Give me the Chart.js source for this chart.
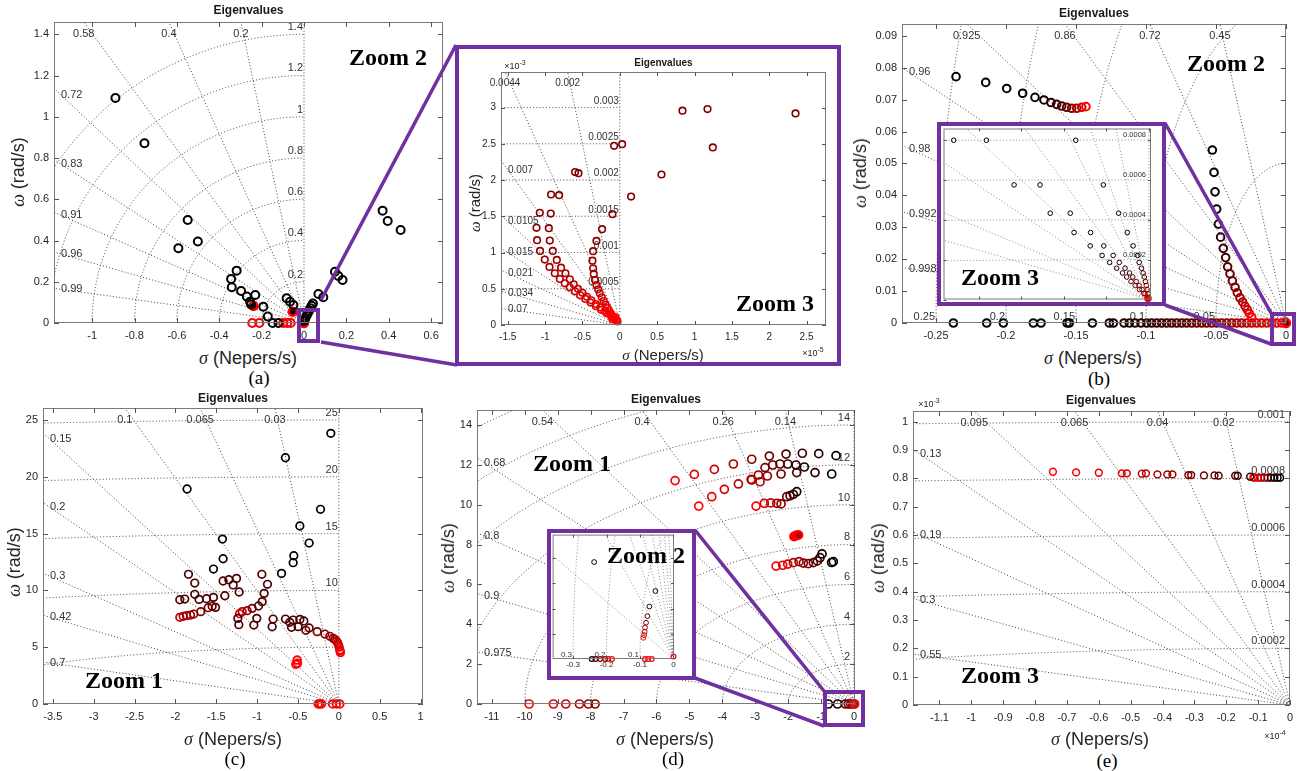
<!DOCTYPE html>
<html lang="en">
<head>
<meta charset="UTF-8" />
<title>Eigenvalues</title>
<script src="https://cdn.jsdelivr.net/npm/chart.js"></script>
<style>
  body { margin: 0; background: #fff; }
  #page { position: relative; width: 1307px; height: 771px; overflow: hidden; font-family: "Liberation Sans", Arial, sans-serif; color: #262626; }
  canvas { position: absolute; }
  .lbl { position: absolute; transform: translate(-50%, -50%); white-space: nowrap; line-height: 1; }
  .title { font-weight: bold; font-size: 12px; color: #1a1a1a; }
  .ax { font-size: 18px; }
  .ax i { font-family: "Liberation Serif", serif; }
  .ylab { transform: translate(-50%, -50%) rotate(-90deg); }
  .sub { font-family: "Liberation Serif", "Times New Roman", serif; font-size: 19px; color: #000; }
  .zoom { font-family: "Liberation Serif", serif; font-weight: bold; font-size: 24px; color: #000; }
  .exp { font-size: 9px; }
  .exp sup { font-size: 7px; }
  .frame { position: absolute; border: 4px solid #7030a0; box-sizing: border-box; }
  svg { position: absolute; left: 0; top: 0; }
</style>
</head>
<body>
<div id="page"></div>
<script>
// ---------- (a) main ----------
const aZeta = [0.99, 0.96, 0.91, 0.83, 0.72, 0.58, 0.4, 0.2];
const aWn = [0.2, 0.4, 0.6, 0.8, 1, 1.2, 1.4];
const aXTicks = [-1, -0.8, -0.6, -0.4, -0.2, 0, 0.2, 0.4, 0.6];
const aXLabels = ['-1', '-0.8', '-0.6', '-0.4', '-0.2', '0', '0.2', '0.4', '0.6'];
const aYTicks = [0, 0.2, 0.4, 0.6, 0.8, 1, 1.2, 1.4];
const aYLabels = ['0', '0.2', '0.4', '0.6', '0.8', '1', '1.2', '1.4'];
const aBlack = [[-0.89,1.091],[-0.753,0.872],[-0.549,0.5],[-0.501,0.395],[-0.593,0.363],[-0.318,0.254],[-0.344,0.214],
  [-0.341,0.173],[-0.297,0.155],[-0.27,0.128],[-0.23,0.136],[-0.255,0.103],[-0.25,0.09],[-0.192,0.079],[-0.171,0.031],
  [-0.148,0],[-0.121,0],[-0.082,0.12],[-0.066,0.103],[-0.05,0.087],[0,0.01],[0.006,0.022],[0.012,0.035],[0.018,0.048],
  [0.024,0.06],[0.03,0.072],[0.036,0.084],[0.042,0.095],[0.068,0.141],[0.091,0.125],[0.146,0.249],[0.162,0.228],
  [0.182,0.209],[0.371,0.545],[0.395,0.495],[0.456,0.451]];
const aRed = [[-0.244,0],[-0.211,0],[-0.098,0],[-0.079,0],[-0.063,0]];
const aRedDot = [[-0.239,0.083],[-0.053,0.055],[0,0]];

// ---------- (a) zoom 3 (x in 1e-5, y in 1e-3) ----------
const azZeta = [0.07, 0.034, 0.021, 0.015, 0.0105, 0.007, 0.0044, 0.002];
const azWn = [0.0005, 0.001, 0.0015, 0.002, 0.0025, 0.003];
const azXTicks = [-1.5, -1, -0.5, 0, 0.5, 1, 1.5, 2, 2.5];
const azXLabels = ['-1.5', '-1', '-0.5', '0', '0.5', '1', '1.5', '2', '2.5'];
const azYTicks = [0, 0.5, 1, 1.5, 2, 2.5, 3];
const azYLabels = ['0', '0.5', '1', '1.5', '2', '2.5', '3'];
const azTop = [[0.839,2.956],[1.174,2.979],[2.352,2.919],[1.245,2.449],[-0.076,2.472],[0.031,2.495],[0.558,2.076],
  [0.151,1.772],[-0.098,1.529],[-0.598,2.109],[-0.553,2.095],[-0.92,1.8],[-0.812,1.791]];
const azLeft = [[-1.071,1.547],[-1.115,1.34],[-1.107,1.17],[-1.067,1.022],[-1.004,0.902],[-0.941,0.801],[-0.87,0.714],
  [-0.803,0.635],[-0.736,0.575],[-0.67,0.52],[-0.6,0.465],[-0.53,0.41],[-0.46,0.36],[-0.39,0.31],[-0.32,0.26],
  [-0.25,0.21],[-0.18,0.165],[-0.12,0.13]];
const azMid = [[-0.924,1.537],[-0.95,1.335],[-0.937,1.165],[-0.897,1.022],[-0.843,0.898],[-0.786,0.791],[-0.727,0.714],
  [-0.669,0.631],[-0.616,0.562],[-0.56,0.5],[-0.5,0.445],[-0.44,0.39],[-0.38,0.34],[-0.32,0.29],[-0.26,0.24],
  [-0.2,0.195],[-0.15,0.155],[-0.11,0.125]];
const azRight = [[-0.237,1.322],[-0.312,1.16],[-0.357,1.018],[-0.366,0.888],[-0.357,0.783],[-0.348,0.704],[-0.331,0.622],
  [-0.312,0.552],[-0.29,0.493],[-0.268,0.438],[-0.241,0.383],[-0.215,0.33],[-0.19,0.28],[-0.165,0.235],[-0.14,0.19],
  [-0.115,0.15],[-0.095,0.12]];
const azCore = [[-0.1,0.08],[-0.09,0.1],[-0.07,0.09],[-0.06,0.11],[-0.05,0.08],[-0.04,0.06],[-0.03,0.05]];

// ---------- (b) main ----------
const bZeta = [0.998, 0.992, 0.98, 0.96, 0.925, 0.86, 0.72, 0.45];
const bWn = [0.05, 0.1, 0.15, 0.2, 0.25];
const bXTicks = [-0.25, -0.2, -0.15, -0.1, -0.05, 0];
const bXLabels = ['-0.25', '-0.2', '-0.15', '-0.1', '-0.05', '0'];
const bYTicks = [0, 0.01, 0.02, 0.03, 0.04, 0.05, 0.06, 0.07, 0.08, 0.09];
const bYLabels = ['0', '0.01', '0.02', '0.03', '0.04', '0.05', '0.06', '0.07', '0.08', '0.09'];
const bArc = [[-0.2357,0.0772],[-0.2145,0.0754],[-0.1995,0.0735],[-0.1881,0.072],[-0.1793,0.0707],[-0.1729,0.0699],
  [-0.1679,0.0691],[-0.1638,0.0685],[-0.1602,0.068],[-0.1567,0.0676],[-0.1531,0.0673],[-0.1495,0.0673],
  [-0.1459,0.0676],[-0.1429,0.0678]];
const bChain = [[-0.0526,0.0542],[-0.0514,0.0472],[-0.0507,0.0411],[-0.0495,0.0357],[-0.0483,0.031],[-0.0467,0.0269],
  [-0.0448,0.0234],[-0.0431,0.0205],[-0.0417,0.0176],[-0.04,0.0154],[-0.0383,0.0132],[-0.0364,0.0112],
  [-0.0348,0.0095],[-0.0329,0.0079],[-0.031,0.0066],[-0.0293,0.0053],[-0.0276,0.0041],[-0.0262,0.003],[-0.0245,0.0018]];
const bAxis = [-0.2376,-0.2138,-0.2019,-0.1805,-0.175,-0.1564,-0.1548,-0.1383,-0.1262,-0.1233,-0.1157,-0.1119,
  -0.1079,-0.1036,-0.0995,-0.096,-0.0924,-0.0888,-0.0852,-0.0817,-0.0781,-0.0745,-0.071,-0.0674,-0.0638,-0.0602,
  -0.0567,-0.0531,-0.0495,-0.046,-0.0424,-0.0388,-0.0352,-0.0317,-0.0281,-0.0245,-0.021,-0.0174,-0.0138,-0.0102,
  -0.0067,-0.0031];
const bOriginRed = [[0,0]];
const bOriginBlack = [[-0.0003,0.0008]];

// ---------- (b) zoom 3 (x in 1e-5, y in 1e-4) ----------
const bzZeta = [0.16, 0.11, 0.07, 0.05, 0.034, 0.023, 0.016, 0.009];
const bzWn = [0.0002, 0.0004, 0.0006, 0.0008];
const bzXTicks = [-4, -3, -2, -1, 0];
const bzYTicks = [0, 2, 4, 6, 8];
const bzCol1 = [[-4.59,7.99],[-3.17,5.75],[-2.32,4.33],[-1.76,3.36],[-1.38,2.69],[-1.1,2.21],[-0.923,1.86],[-0.757,1.57],
  [-0.62,1.33],[-0.522,1.13],[-0.42,0.9],[-0.32,0.7],[-0.22,0.5],[-0.12,0.3],[-0.04,0.1]];
const bzCol2 = [[-3.82,7.99],[-2.56,5.75],[-1.85,4.33],[-1.37,3.36],[-1.06,2.69],[-0.84,2.21],[-0.697,1.86],[-0.56,1.57],
  [-0.454,1.33],[-0.379,1.13],[-0.3,0.9],[-0.23,0.7],[-0.16,0.5],[-0.09,0.3],[-0.03,0.1]];
const bzCol3 = [[-1.72,7.99],[-1.07,5.75],[-0.711,4.33],[-0.506,3.36],[-0.37,2.69],[-0.265,2.21],[-0.227,1.86],[-0.174,1.57],
  [-0.136,1.33],[-0.107,1.13],[-0.08,0.9],[-0.06,0.7],[-0.04,0.5],[-0.02,0.3],[-0.01,0.1]];
const bzEnd = [[-0.02,0.05]];

// ---------- (c) ----------
const cZeta = [0.7, 0.42, 0.3, 0.2, 0.15, 0.1, 0.065, 0.03];
const cWn = [5, 10, 15, 20, 25];
const cXTicks = [-3.5, -3, -2.5, -2, -1.5, -1, -0.5, 0, 0.5, 1];
const cXLabels = ['-3.5', '-3', '-2.5', '-2', '-1.5', '-1', '-0.5', '0', '0.5', '1'];
const cYTicks = [0, 5, 10, 15, 20, 25];
const cYLabels = ['0', '5', '10', '15', '20', '25'];
const cTop = [[-0.098,23.83],[-0.653,21.68],[-1.857,18.93],[-0.224,17.14],[-0.477,15.67],[-0.363,14.17],[-1.424,14.52],
  [-1.416,12.79],[-0.551,13.05],[-0.559,12.44],[-1.534,11.88],[-0.701,11.5]];
const cMid = [[-1.84,11.42],[-1.763,10.65],[-1.763,9.66],[-1.885,9.24],[-1.946,9.18],[-1.71,9.21],[-1.619,9.27],
  [-1.534,9.39],[-1.416,10.83],[-1.346,10.94],[-1.293,10.48],[-1.252,11.06],[-1.22,9.86],[-1.395,9.53],[-0.942,11.42],
  [-0.873,10.54],[-0.914,9.74],[-0.938,9.01],[-1.236,7.54],[-1.224,6.98],[-1.04,6.95],[-1.004,7.54],[-0.804,7.48],
  [-0.816,6.8],[-0.653,7.48],[-0.6,7.19],[-0.559,7.39],[-0.477,7.45],[-0.428,7.31],[-0.579,6.75],[-0.498,6.81]];
const cLowA = [[-1.215,7.95],[-1.183,8.13],[-1.122,8.22],[-1.061,8.42],[-0.983,8.63]];
const cLowB = [[-1.946,7.63],[-1.905,7.72],[-1.864,7.78],[-1.815,7.83],[-1.775,7.92],[-1.689,8.13],[-1.599,8.48],
  [-1.55,8.6],[-1.509,8.51]];
const cChain = [[-0.404,6.49],[-0.363,6.69],[-0.265,6.37],[-0.171,6.16],[-0.11,5.96],[-0.069,5.78],[-0.05,5.7],
  [-0.029,5.55],[-0.015,5.4],[-0.004,5.19],[0.005,5.0],[0.012,4.75],[0.016,4.65],[0.02,4.52]];
const cRed = [[-0.51,3.87],[-0.506,3.58],[-0.526,3.49],[-0.253,0],[-0.235,0],[-0.212,0],[-0.077,0],[-0.029,0],[0.012,0]];

// ---------- (d) ----------
const dZeta = [0.975, 0.9, 0.8, 0.68, 0.54, 0.4, 0.26, 0.14];
const dWn = [2, 4, 6, 8, 10, 12, 14, 16, 18];
const dXTicks = [-11, -10, -9, -8, -7, -6, -5, -4, -3, -2, -1, 0];
const dXLabels = ['-11', '-10', '-9', '-8', '-7', '-6', '-5', '-4', '-3', '-2', '-1', '0'];
const dYTicks = [0, 2, 4, 6, 8, 10, 12, 14];
const dYLabels = ['0', '2', '4', '6', '8', '10', '12', '14'];
const dA = [[-5.434,11.21],[-4.848,11.52],[-4.241,11.77],[-3.664,12.04],[-3.106,12.28],[-2.571,12.44],[-2.064,12.54],
  [-1.569,12.58],[-1.072,12.56],[-0.546,12.46]];
const dB = [[-4.716,9.93],[-4.32,10.4],[-3.937,10.77],[-3.512,11.04],[-3.106,11.24],[-2.904,11.49],[-2.702,11.86],
  [-2.469,11.99],[-2.247,12.04],[-2.013,12.04],[-1.761,11.99],[-1.508,11.89]];
const dC = [[-3.127,11.27],[-2.854,11.15],[-2.631,11.44],[-2.216,11.54],[-1.74,11.61],[-1.184,11.61],[-0.677,11.54]];
const dD = [[-2.975,9.93],[-2.722,10.07],[-2.529,10.09],[-2.347,10.07],[-2.216,10.04],[-2.043,10.4],[-1.943,10.45],
  [-1.842,10.52],[-1.74,10.65]];
const dE = [[-1.82,8.4],[-1.761,8.45],[-1.69,8.48]];
const dF = [[-2.368,6.92],[-2.165,6.96],[-2.013,7.02],[-1.842,7.09],[-1.67,7.14],[-1.538,7.07],[-1.387,7.04],
  [-1.235,7.09],[-1.114,7.18],[-1.032,7.34],[-0.971,7.53]];
const dFBlack = [[-0.68,7.1],[-0.628,7.14]];
const dAxisFar = [[-9.866,0],[-9.129,0],[-8.754,0],[-8.339,0],[-8.066,0],[-7.863,0]];
const dAxisNear = [[-0.78,0],[-0.5,0],[-0.26,0],[-0.17,0],[-0.1,0],[-0.05,0],[0,0],[0.02,0]];

// ---------- (d) zoom 2 ----------
const dzWn = [0.1, 0.2, 0.3];
const dzXTicks = [-0.3, -0.2, -0.1, 0];
const dzXLabels = ['-0.3', '-0.2', '-0.1', '0'];
const dzYTicks = [0.02, 0.04, 0.06, 0.08];
const dzBlack = [[-0.237,0.077],[-0.054,0.054]];
const dzChain = [[-0.072,0.0417],[-0.078,0.034],[-0.082,0.0288],[-0.085,0.025],[-0.086,0.0216],[-0.088,0.019],[-0.09,0.0168]];
const dzAxis = [[-0.244,0],[-0.233,0],[-0.219,0],[-0.204,0],[-0.195,0],[-0.184,0]];
const dzRed = [[-0.0855,0],[-0.076,0],[-0.065,0],[0,0.002]];

// ---------- (e) (x in 1e-4, y in 1e-3) ----------
const eZeta = [0.55, 0.3, 0.19, 0.13, 0.095, 0.065, 0.04, 0.02];
const eWn = [0.0002, 0.0004, 0.0006, 0.0008, 0.001];
const eXTicks = [-1.1, -1, -0.9, -0.8, -0.7, -0.6, -0.5, -0.4, -0.3, -0.2, -0.1, 0];
const eXLabels = ['-1.1', '-1', '-0.9', '-0.8', '-0.7', '-0.6', '-0.5', '-0.4', '-0.3', '-0.2', '-0.1', '0'];
const eYTicks = [0, 0.1, 0.2, 0.3, 0.4, 0.5, 0.6, 0.7, 0.8, 0.9, 1];
const eYLabels = ['0', '0.1', '0.2', '0.3', '0.4', '0.5', '0.6', '0.7', '0.8', '0.9', '1'];
const eRow = [[-0.744,0.8236],[-0.671,0.8213],[-0.6,0.82],[-0.528,0.8178],[-0.512,0.8178],[-0.465,0.8166],
  [-0.452,0.8178],[-0.416,0.8142],[-0.385,0.8142],[-0.369,0.8142],[-0.319,0.8119],[-0.31,0.8119],[-0.27,0.8107],
  [-0.237,0.8107],[-0.224,0.8096],[-0.172,0.8096],[-0.164,0.8096],[-0.125,0.806],[-0.06,0.8025],[-0.049,0.8025],
  [-0.039,0.8025],[-0.031,0.8025]];
const eCluster = [[-0.115,0.8036],[-0.112,0.8025],[-0.101,0.8025],[-0.091,0.8025],[-0.08,0.8025],[-0.07,0.8025]];

const sc = (list, fx, fy) => list.map(([x, y]) => [x * fx, y * fy]);
const sv = (list, f) => list.map(v => v * f);

const page = document.getElementById('page');
const FAM = '"Liberation Sans", Arial, sans-serif';

function shade(t) {
  t = Math.max(0, Math.min(1, t));
  return 'rgb(' + Math.round(255 * t) + ',0,0)';
}

function pts(list, o) {
  const n = list.length;
  const c1 = o.c1 === undefined ? o.c0 : o.c1;
  const col = ctx => {
    const f = n > 1 ? Math.pow((ctx.dataIndex || 0) / (n - 1), o.g || 1) : 0;
    return shade(o.c0 + (c1 - o.c0) * f);
  };
  return {
    data: list.map(p => ({ x: p[0], y: p[1] })),
    pointRadius: o.r, pointHoverRadius: o.r, pointBorderWidth: o.w,
    pointBorderColor: col, pointBackgroundColor: o.fill || 'rgba(0,0,0,0)',
    showLine: false, clip: false
  };
}

function makePlot(c) {
  const cv = document.createElement('canvas');
  cv.width = c.cv[2]; cv.height = c.cv[3];
  cv.style.left = c.cv[0] + 'px'; cv.style.top = c.cv[1] + 'px';
  page.appendChild(cv);
  const padT = c.box[1] - c.cv[1];
  const padR = c.cv[0] + c.cv[2] - c.box[2];
  const yW = c.box[0] - c.cv[0];
  const xH = c.cv[1] + c.cv[3] - c.box[3];
  const font = { family: FAM, size: c.tickFont || 11 };
  const noPad = s => { s.paddingLeft = 0; s.paddingRight = 0; s.paddingTop = 0; s.paddingBottom = 0; };
  const gf = c.gridFont || 11;

  const sgrid = {
    id: 'sgrid',
    beforeDraw(chart) {
      if (!c.bg) return;
      const g = chart.ctx;
      g.save(); g.fillStyle = '#fff'; g.fillRect(0, 0, chart.width, chart.height); g.restore();
    },
    beforeDatasetsDraw(chart) {
      const g = chart.ctx, A = chart.chartArea, sx = chart.scales.x, sy = chart.scales.y;
      const X = v => sx.getPixelForValue(v), Y = v => sy.getPixelForValue(v);
      const xMin = sx.min, yMax = sy.max;
      // damping-ratio rays and natural-frequency arcs, clipped to the axes box
      g.save();
      g.beginPath(); g.rect(A.left, A.top, A.right - A.left, A.bottom - A.top); g.clip();
      g.strokeStyle = c.gridColor || 'rgba(35,35,35,0.85)';
      g.lineWidth = 1; g.setLineDash([1, 2.2]);
      [0].concat(c.zeta).forEach(z => {
        const s = Math.sqrt(1 - z * z);
        const R = Math.min(z > 0 ? -xMin / z : Infinity, yMax / s) * 1.2;
        g.beginPath(); g.moveTo(X(0), Y(0)); g.lineTo(X(-z * R), Y(s * R)); g.stroke();
      });
      c.wn.forEach(w => {
        g.beginPath();
        g.ellipse(X(0), Y(0), X(0) - X(-w), Y(0) - Y(w), 0, Math.PI, 1.5 * Math.PI);
        g.stroke();
      });
      g.restore();

      // grid labels (not clipped)
      g.save();
      g.fillStyle = '#333'; g.font = gf + 'px ' + FAM; g.textBaseline = 'middle';
      if (c.zetaLabels !== false) {
        c.zeta.forEach(z => {
          const s = Math.sqrt(1 - z * z), Rx = -xMin / z, Ry = yMax / s;
          if (Ry <= Rx) {
            g.textAlign = 'center';
            g.fillText(String(z), X(-z * Ry), A.top + gf + 1);
          } else {
            const px = A.left + 7, xv = sx.getValueForPixel(px);
            g.textAlign = 'left';
            g.fillText(String(z), px, Y(-xv * s / z));
          }
        });
      }
      if (c.arcLabels !== false) {
        g.textAlign = 'right';
        c.wn.forEach(w => {
          if (c.arcSide === 'real') {
            const px = X(-w);
            if (px > A.left + 10) g.fillText(String(w), px - 1, A.bottom - gf * 0.55);
          } else {
            const py = Y(w);
            if (py > A.top + 6) g.fillText(String(w), Math.min(X(0) - 1, A.right - 5), py - gf * 0.65);
          }
        });
      }
      g.restore();
    },
    afterDraw(chart) {
      const g = chart.ctx, A = chart.chartArea, sx = chart.scales.x, sy = chart.scales.y;
      const L = c.tickLen || 5;
      g.save();
      g.strokeStyle = '#7a7a7a'; g.lineWidth = 1;
      g.strokeRect(A.left + 0.5, A.top + 0.5, A.right - A.left - 1, A.bottom - A.top - 1);
      g.strokeStyle = '#555';
      g.beginPath();
      c.xTicks.forEach(v => {
        const p = Math.round(sx.getPixelForValue(v)) + 0.5;
        g.moveTo(p, A.bottom); g.lineTo(p, A.bottom - L);
        g.moveTo(p, A.top); g.lineTo(p, A.top + L);
      });
      c.yTicks.forEach(v => {
        const p = Math.round(sy.getPixelForValue(v)) + 0.5;
        g.moveTo(A.left, p); g.lineTo(A.left + L, p);
        g.moveTo(A.right, p); g.lineTo(A.right - L, p);
      });
      g.stroke();
      g.restore();
    }
  };

  new Chart(cv, {
    type: 'scatter',
    data: { datasets: c.sets },
    options: {
      responsive: false, animation: false, devicePixelRatio: 1, events: [],
      layout: { padding: { left: 0, top: padT, right: padR, bottom: 0 } },
      plugins: { legend: { display: false }, tooltip: { enabled: false } },
      scales: {
        x: {
          type: 'linear', min: c.x[0], max: c.x[1],
          afterBuildTicks: s => { s.ticks = c.xTicks.map(v => ({ value: v })); },
          afterFit: s => { s.height = xH; noPad(s); },
          ticks: { display: !!c.xLabels, callback: (v, i) => (c.xLabels ? c.xLabels[i] : ''), font, color: '#262626',
            padding: c.xPad === undefined ? 6 : c.xPad, maxRotation: 0, minRotation: 0, autoSkip: false },
          grid: { display: false, drawTicks: false }, border: { display: false }
        },
        y: {
          type: 'linear', min: c.y[0], max: c.y[1],
          afterBuildTicks: s => { s.ticks = c.yTicks.map(v => ({ value: v })); },
          afterFit: s => { s.width = yW; noPad(s); },
          ticks: { display: !!c.yLabels, callback: (v, i) => (c.yLabels ? c.yLabels[i] : ''), font, color: '#262626',
            padding: 5, autoSkip: false },
          grid: { display: false, drawTicks: false }, border: { display: false }
        }
      }
    },
    plugins: [sgrid]
  });
}

// (a) main
makePlot({
  cv: [0, 0, 452, 345], box: [54, 22, 443, 323], x: [-1.18, 0.656], y: [0, 1.46],
  xTicks: aXTicks, xLabels: aXLabels, yTicks: aYTicks, yLabels: aYLabels,
  zeta: aZeta, wn: aWn,
  sets: [
    pts(aBlack, { c0: 0, r: 4, w: 2 }),
    pts(aRed, { c0: 1, r: 4, w: 2.2 }),
    pts(aRedDot, { c0: 1, r: 4, w: 2.5, fill: '#2a0000' })
  ]
});

// (a) zoom 3
makePlot({
  cv: [457, 47, 381, 316], box: [501, 72, 826, 325], x: [-1.59e-5, 2.76e-5], y: [0, 3.49e-3],
  xTicks: sv(azXTicks, 1e-5), xLabels: azXLabels, yTicks: sv(azYTicks, 1e-3), yLabels: azYLabels,
  zeta: azZeta, wn: azWn, tickFont: 10, gridFont: 10, tickLen: 4, bg: true,
  sets: [
    pts(sc(azTop, 1e-5, 1e-3), { c0: 0.5, r: 3.3, w: 1.6 }),
    pts(sc(azLeft, 1e-5, 1e-3), { c0: 0.5, c1: 1, r: 3.3, w: 1.6 }),
    pts(sc(azMid, 1e-5, 1e-3), { c0: 0.5, c1: 1, r: 3.3, w: 1.6 }),
    pts(sc(azRight, 1e-5, 1e-3), { c0: 0.5, c1: 1, r: 3.3, w: 1.6 }),
    pts(sc(azCore, 1e-5, 1e-3), { c0: 1, r: 3.3, w: 1.6 })
  ]
});

// (b) main
makePlot({
  cv: [845, 0, 462, 345], box: [902, 24, 1286, 323], x: [-0.2743, 0], y: [0, 0.0937],
  xTicks: bXTicks, xLabels: bXLabels, yTicks: bYTicks, yLabels: bYLabels,
  zeta: bZeta, wn: bWn, arcSide: 'real',
  sets: [
    pts(bArc, { c0: 0, c1: 1, g: 2.5, r: 3.8, w: 2 }),
    pts(bChain, { c0: 0, c1: 1, g: 1.4, r: 3.8, w: 2 }),
    pts(bAxis.map(x => [x, 0]), { c0: 0, c1: 1, g: 1.6, r: 3.8, w: 2 }),
    pts(bOriginRed, { c0: 1, r: 4, w: 2.5, fill: '#2a0000' }),
    pts(bOriginBlack, { c0: 0, r: 2.5, w: 1.5 })
  ]
});

// (c)
makePlot({
  cv: [0, 400, 432, 330], box: [43, 408, 423, 704], x: [-3.62, 1.03], y: [0, 26.06],
  xTicks: cXTicks, xLabels: cXLabels, yTicks: cYTicks, yLabels: cYLabels,
  zeta: cZeta, wn: cWn,
  sets: [
    pts(cTop, { c0: 0, r: 3.8, w: 1.7 }),
    pts(cMid, { c0: 0.3, r: 3.8, w: 1.7 }),
    pts(cLowA, { c0: 0.9, c1: 0.35, r: 3.8, w: 1.7 }),
    pts(cLowB, { c0: 0.75, c1: 0.35, r: 3.8, w: 1.7 }),
    pts(cChain, { c0: 0.35, c1: 1, r: 3.8, w: 1.7 }),
    pts(cRed, { c0: 1, r: 3.8, w: 1.9 })
  ]
});

// (d)
makePlot({
  cv: [434, 400, 432, 330], box: [477, 410, 855, 704], x: [-11.45, 0.03], y: [0, 14.75],
  xTicks: dXTicks, xLabels: dXLabels, yTicks: dYTicks, yLabels: dYLabels,
  zeta: dZeta, wn: dWn,
  sets: [
    pts(dA, { c0: 1, c1: 0, r: 4, w: 1.7 }),
    pts(dB, { c0: 1, c1: 0.1, r: 4, w: 1.7 }),
    pts(dC, { c0: 0.9, c1: 0, r: 4, w: 1.7 }),
    pts(dD, { c0: 1, c1: 0.1, r: 4, w: 1.7 }),
    pts(dE, { c0: 1, r: 4, w: 2, fill: '#c00000' }),
    pts(dF, { c0: 1, c1: 0.1, r: 4, w: 1.7 }),
    pts(dFBlack, { c0: 0, r: 4, w: 1.7 }),
    pts(dAxisFar, { c0: 1, c1: 0.55, r: 4, w: 1.7 }),
    pts(dAxisNear, { c0: 0, c1: 1, r: 4, w: 1.7 })
  ]
});

// (e)
makePlot({
  cv: [868, 400, 439, 330], box: [913, 411, 1290, 705], x: [-1.183e-4, 0], y: [0, 1.038e-3],
  xTicks: sv(eXTicks, 1e-4), xLabels: eXLabels, yTicks: sv(eYTicks, 1e-3), yLabels: eYLabels,
  zeta: eZeta, wn: eWn,
  sets: [
    pts(sc(eRow, 1e-4, 1e-3), { c0: 1, c1: 0, r: 3.4, w: 1.5 }),
    pts(sc(eCluster, 1e-4, 1e-3), { c0: 1, c1: 0.6, r: 3.4, w: 1.5 })
  ]
});

// (b) zoom 3 inset
makePlot({
  cv: [939, 124, 224, 180], box: [939, 124, 1151, 302], x: [-4.83e-5, 0.05e-5], y: [0, 8.58e-4],
  xTicks: sv(bzXTicks, 1e-5), xLabels: null, yTicks: sv(bzYTicks, 1e-4), yLabels: null,
  zeta: bzZeta, wn: bzWn, zetaLabels: false, gridFont: 7.5, tickLen: 3, bg: true,
  gridColor: 'rgba(110,110,110,0.8)',
  sets: [
    pts(sc(bzCol1, 1e-5, 1e-4), { c0: 0, c1: 0.7, g: 2, r: 2.3, w: 1 }),
    pts(sc(bzCol2, 1e-5, 1e-4), { c0: 0, c1: 0.7, g: 2, r: 2.3, w: 1 }),
    pts(sc(bzCol3, 1e-5, 1e-4), { c0: 0, c1: 0.8, g: 2, r: 2.3, w: 1 }),
    pts(sc(bzEnd, 1e-5, 1e-4), { c0: 1, r: 3, w: 1.5, fill: '#ff0000' })
  ]
});

// (d) zoom 2 inset
makePlot({
  cv: [549, 531, 145, 147], box: [549, 531, 674, 659], x: [-0.361, 0.0015], y: [0, 0.0988],
  xTicks: dzXTicks, xLabels: dzXLabels, yTicks: dzYTicks, yLabels: null,
  zeta: dZeta, wn: dzWn, zetaLabels: false, arcSide: 'real', tickFont: 8, gridFont: 8, tickLen: 3, xPad: 1, bg: true,
  gridColor: 'rgba(110,110,110,0.8)',
  sets: [
    pts(dzBlack, { c0: 0.1, r: 2.4, w: 1 }),
    pts(dzChain, { c0: 0.2, c1: 1, r: 2.4, w: 1 }),
    pts(dzAxis, { c0: 0.1, c1: 1, r: 2.4, w: 1.2 }),
    pts(dzRed, { c0: 1, r: 2.4, w: 1.2 })
  ]
});

// ---------- text ----------
function label(html, x, y, cls) {
  const d = document.createElement('div');
  d.className = 'lbl ' + cls;
  d.innerHTML = html;
  d.style.left = x + 'px'; d.style.top = y + 'px';
  page.appendChild(d);
  return d;
}
[[248.5, 10], [1094, 13], [233, 398], [666, 399], [1101, 400]].forEach(p => label('Eigenvalues', p[0], p[1], 'title'));
label('Eigenvalues', 663.5, 63, 'title').style.fontSize = '10px';
const sig = '<i>σ</i> (Nepers/s)', om = '<i>ω</i> (rad/s)';
[[248, 358], [1093, 358], [233, 739], [665, 739], [1100, 739]].forEach(p => label(sig, p[0], p[1], 'ax'));
[[18, 172], [860, 173], [14, 562], [448, 558], [878, 558]].forEach(p => label(om, p[0], p[1], 'ax ylab'));
label(sig, 663, 355, 'ax').style.fontSize = '15px';
label(om, 475, 203, 'ax ylab').style.fontSize = '15px';
[['(a)', 259, 377], ['(b)', 1099, 378], ['(c)', 235, 758], ['(d)', 673, 758], ['(e)', 1107, 760]]
  .forEach(p => label(p[0], p[1], p[2], 'sub'));
label('×10<sup>-3</sup>', 515, 65, 'exp');
label('×10<sup>-5</sup>', 813, 352, 'exp');
label('×10<sup>-3</sup>', 929, 403, 'exp');
label('×10<sup>-4</sup>', 1275, 735, 'exp');

// ---------- purple zoom frames ----------
const frames = [[297, 308, 23, 35], [455, 45, 386, 321], [1270, 312, 26, 34], [937, 122, 229, 184],
  [823, 690, 42, 37], [547, 529, 149, 151]];
frames.forEach(f => {
  const d = document.createElement('div');
  d.className = 'frame';
  d.style.left = f[0] + 'px'; d.style.top = f[1] + 'px';
  d.style.width = f[2] + 'px'; d.style.height = f[3] + 'px';
  page.appendChild(d);
});
const links = [[321, 300, 456, 45], [321, 342, 457, 365], [1165, 123, 1271, 313], [1165, 305, 1271, 344],
  [695, 530, 824, 691], [695, 678, 824, 726]];
const svg = document.createElementNS('http://www.w3.org/2000/svg', 'svg');
svg.setAttribute('width', 1307); svg.setAttribute('height', 771);
links.forEach(l => {
  const ln = document.createElementNS('http://www.w3.org/2000/svg', 'line');
  ln.setAttribute('x1', l[0]); ln.setAttribute('y1', l[1]); ln.setAttribute('x2', l[2]); ln.setAttribute('y2', l[3]);
  ln.setAttribute('stroke', '#7030a0'); ln.setAttribute('stroke-width', 3.5);
  svg.appendChild(ln);
});
page.appendChild(svg);

[['Zoom 2', 388, 57], ['Zoom 3', 775, 303], ['Zoom 2', 1226, 63], ['Zoom 3', 1000, 277], ['Zoom 1', 124, 680],
  ['Zoom 1', 572, 463], ['Zoom 2', 646, 555], ['Zoom 3', 1000, 675]].forEach(p => label(p[0], p[1], p[2], 'zoom'));
</script>
</body>
</html>
